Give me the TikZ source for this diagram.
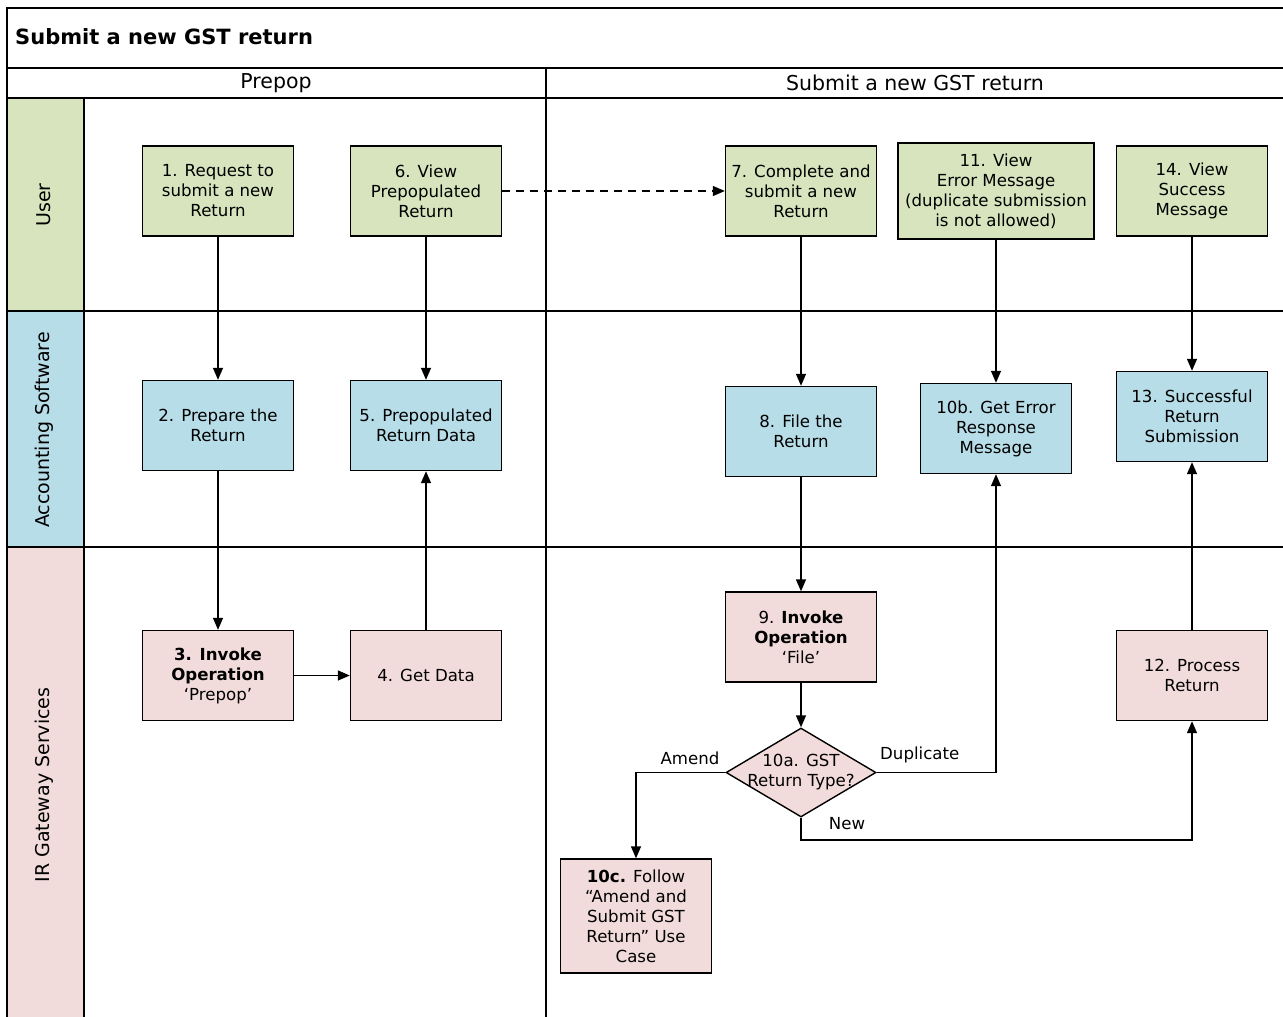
\documentclass[tikz,border=0pt]{standalone}
\usepackage{fontspec}
\setmainfont{DejaVu Sans}
\usetikzlibrary{shapes.geometric,arrows.meta}
\definecolor{ugreen}{HTML}{D7E4BD}
\definecolor{ablue}{HTML}{B7DDE8}
\definecolor{ipink}{HTML}{F2DCDB}
\tikzset{
  every picture/.style={x=1pt,y=-1pt},
  box/.style={draw, line width=1.4pt, minimum width=151pt, minimum height=90pt, align=center, font=\fontsize{16.6}{20}\selectfont, inner sep=1pt},
  ubox/.style={box, fill=ugreen},
  abox/.style={box, fill=ablue},
  ibox/.style={box, fill=ipink},
  conn/.style={line width=1.4pt, -{Triangle[length=12pt,width=10pt]}},
  lbl/.style={font=\fontsize{16.6}{20}\selectfont, inner sep=0pt},
  frame/.style={line width=1.4pt},
  hdr/.style={font=\fontsize{20.5}{24}\selectfont, inner sep=0},
}
\begin{document}
\begin{tikzpicture}
\useasboundingbox (0,0) rectangle (1283,1017);
\begin{scope}
\clip (0,0) rectangle (1283,1017);
% lane label fills
\fill[ugreen] (7,98) rectangle (84,311);
\fill[ablue] (7,311) rectangle (84,547);
\fill[ipink] (7,547) rectangle (84,1017);
% frame
\draw[frame] (7,1020) -- (7,8) -- (1290,8);
\draw[frame] (7,68) -- (1290,68);
\draw[frame] (7,98) -- (1290,98);
\draw[frame] (7,311) -- (1290,311);
\draw[frame] (7,547) -- (1290,547);
\draw[frame] (84,98) -- (84,1020);
\draw[frame] (546,68) -- (546,1020);
\end{scope}
% titles
\node[anchor=west, font=\fontsize{21}{24}\selectfont\bfseries, inner sep=0] (title) at (15,37) {Submit a new GST return};
\node[hdr] (h1) at (276,83) {Prepop};
\node[hdr] (h2) at (915,83) {Submit a new GST return};
\node[hdr, rotate=90, font=\fontsize{19}{22}\selectfont] (l1) at (44,205) {User};
\node[hdr, rotate=90, font=\fontsize{19}{22}\selectfont] (l2) at (44,430) {Accounting Software};
\node[hdr, rotate=90, font=\fontsize{19}{22}\selectfont] (l3) at (44,785) {IR Gateway Services};
% nodes
\node[ubox] (n1) at (218,191) {1. Request to\\submit a new\\Return};
\node[ubox] (n6) at (426,191) {6. View\\Prepopulated\\Return};
\node[ubox] (n7) at (801,191) {7. Complete and\\submit a new\\Return};
\node[ubox, minimum width=196pt, minimum height=96pt] (n11) at (996,191) {11. View\\Error Message\\(duplicate submission\\is not allowed)};
\node[ubox] (n14) at (1192,191) {14. View\\Success\\Message};
\node[abox] (n2) at (218,425.5) {2. Prepare the\\Return};
\node[abox] (n5) at (426,425.5) {5. Prepopulated\\Return Data};
\node[abox] (n8) at (801,431.5) {8. File the\\Return};
\node[abox] (n10b) at (996,428.5) {10b. Get Error\\Response\\Message};
\node[abox] (n13) at (1192,416.5) {13. Successful\\Return\\Submission};
\node[ibox] (n3) at (218,675.5) {\textbf{3. Invoke}\\\textbf{Operation}\\‘Prepop’};
\node[ibox] (n4) at (426,675.5) {4. Get Data};
\node[ibox] (n9) at (801,637) {9. \textbf{Invoke}\\\textbf{Operation}\\‘File’};
\node[ibox] (n12) at (1192,675.5) {12. Process\\Return};
\node[ibox, minimum height=114pt] (n10c) at (636,916) {\textbf{10c.} Follow\\“Amend and\\Submit GST\\Return” Use\\Case};
\node[diamond, draw, line width=1.4pt, fill=ipink, minimum width=150pt, minimum height=89pt, inner sep=0] (n10a) at (801,772.5) {};
\node[align=center, font=\fontsize{16.6}{20}\selectfont, inner sep=0] (t10a) at (801,772.5) {10a. GST\\Return Type?};
% connectors
\draw[conn] (n1) -- (n2);
\draw[conn] (n2) -- (n3);
\draw[conn] (n3) -- (n4);
\draw[conn] (n4) -- (n5);
\draw[conn] (n6) -- (n5);
\draw[conn, dash pattern=on 8pt off 6pt] (n6) -- (n7);
\draw[conn] (n7) -- (n8);
\draw[conn] (n8) -- (n9);
\draw[conn] (n9) -- (n10a);
\draw[conn] (n11) -- (n10b);
\draw[conn] (n14) -- (n13);
\draw[conn] (n12) -- (n13);
\draw[conn] (n10a.east) -| (n10b.south);
\node[lbl, anchor=west] (dup) at (880,755) {Duplicate};
\draw[conn] (n10a.west) -| (n10c.north);
\node[lbl] (amd) at (690,758) {Amend};
\draw[conn] (n10a.south) |- (1192,840) -- (n12.south);
\node[lbl] (new) at (847,824) {New};
\end{tikzpicture}
\end{document}
